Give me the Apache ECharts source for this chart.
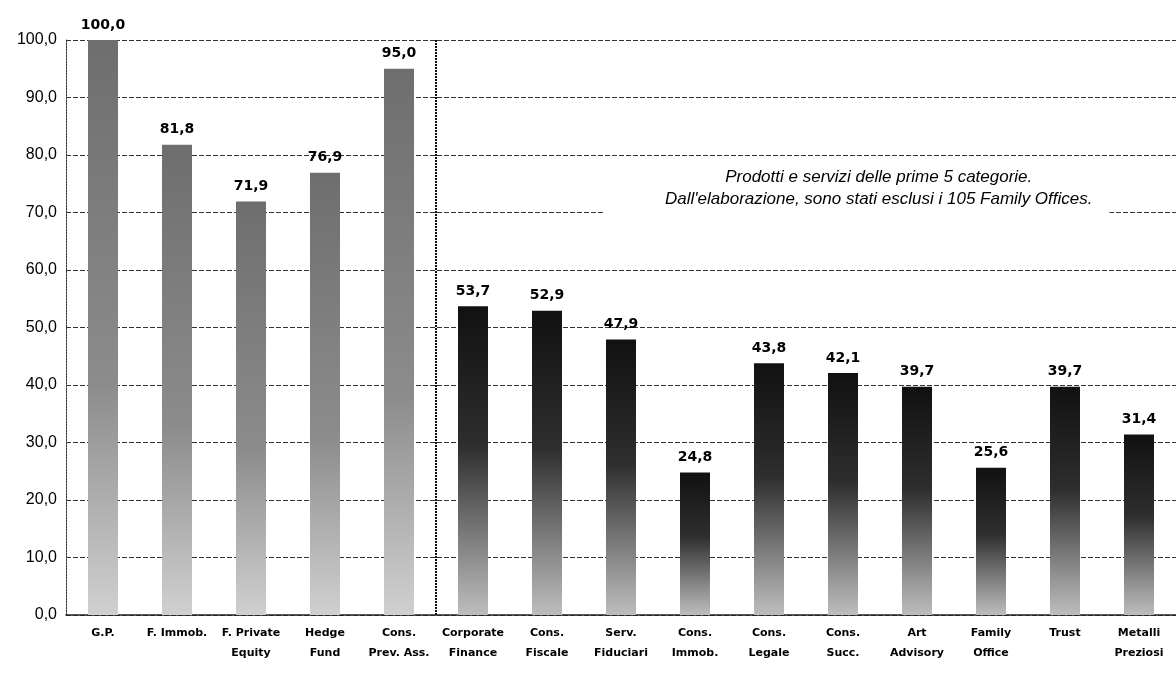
<!DOCTYPE html>
<html>
<head>
<meta charset="utf-8">
<script src="https://cdn.jsdelivr.net/npm/echarts@6/dist/echarts.min.js"></script>
<style>
  html, body { margin: 0; padding: 0; background: #fff; }
  #chart { width: 1176px; height: 678px; }
</style>
</head>
<body>
<div id="chart"></div>
<script>
// categorie (le prime 5 sono i prodotti, il resto i servizi)
const categories = [
  "G.P.", "F. Immob.", "F. Private\nEquity", "Hedge\nFund", "Cons.\nPrev. Ass.",
  "Corporate\nFinance", "Cons.\nFiscale", "Serv.\nFiduciari", "Cons.\nImmob.", "Cons.\nLegale",
  "Cons.\nSucc.", "Art\nAdvisory", "Family\nOffice", "Trust", "Metalli\nPreziosi"
];
const values = [100.0, 81.8, 71.9, 76.9, 95.0, 53.7, 52.9, 47.9, 24.8, 43.8, 42.1, 39.7, 25.6, 39.7, 31.4];
const yTicks = [0, 100, 10]; // min, max, interval
const splitAt = 5; // confine tra prodotti e servizi (in numero di categorie)
const noteLines = [
  "Prodotti e servizi delle prime 5 categorie.",
  "Dall'elaborazione, sono stati esclusi i 105 Family Offices."
];

const fmt = (v) => Number(v).toFixed(1).replace(".", ",");

const lightGrad = new echarts.graphic.LinearGradient(0, 0, 0, 1, [
  { offset: 0, color: "#6e6e6e" },
  { offset: 0.6, color: "#8c8c8c" },
  { offset: 1, color: "#d0d0d0" }
]);
const darkGrad = new echarts.graphic.LinearGradient(0, 0, 0, 1, [
  { offset: 0, color: "#111" },
  { offset: 0.45, color: "#2e2e2e" },
  { offset: 0.8, color: "#8a8a8a" },
  { offset: 1, color: "#bdbdbd" }
]);

const barData = values.map((v, i) => ({
  value: v,
  itemStyle: { color: i < 5 ? lightGrad : darkGrad }
}));

var chartDom = document.getElementById("chart");
var myChart = echarts.init(chartDom);
var option;

option = {
  animation: false,
  grid: { left: 66, right: 0, top: 40, bottom: 63 },
  xAxis: [
    {
      type: "category",
      data: categories,
      axisLine: { show: true, lineStyle: { color: "#222", width: 1.5 } },
      axisTick: { show: false },
      axisLabel: {
        interval: 0,
        margin: 8,
        fontFamily: "DejaVu Sans",
        fontWeight: "bold",
        fontSize: 11,
        lineHeight: 20,
        color: "#000"
      },
      splitLine: { show: false }
    },
    {
      // asse nascosto per posizionare il separatore
      type: "value",
      min: 0,
      max: categories.length,
      show: false
    }
  ],
  yAxis: {
    type: "value",
    min: yTicks[0],
    max: yTicks[1],
    interval: yTicks[2],
    axisLine: { show: true, lineStyle: { color: "#333", type: [2, 1] } },
    axisTick: { show: false },
    axisLabel: {
      formatter: fmt,
      margin: 9,
      fontFamily: "Liberation Sans, Arial",
      fontSize: 16,
      color: "#000"
    },
    splitLine: { lineStyle: { color: "#333", type: [5, 2], width: 1 } }
  },
  graphic: [
    {
      type: "text",
      left: 605,
      top: 160,
      z: 10,
      style: {
        text: noteLines.join("\n"),
        textAlign: "center",
        font: "italic 17px 'Liberation Sans', Arial",
        fill: "#000",
        lineHeight: 22,
        backgroundColor: "#fff",
        padding: [6, 17, 6, 60]
      }
    }
  ],
  series: [
    {
      type: "bar",
      data: barData,
      barWidth: 30,
      label: {
        show: true,
        position: "top",
        distance: 8,
        formatter: (p) => fmt(p.value),
        fontFamily: "DejaVu Sans",
        fontWeight: "bold",
        fontSize: 14,
        color: "#000"
      }
    },
    {
      type: "line",
      xAxisIndex: 1,
      data: [],
      markLine: {
        silent: true,
        symbol: "none",
        label: { show: false },
        lineStyle: { color: "#111", width: 2, type: [2, 1] },
        data: [{ xAxis: splitAt }]
      }
    }
  ]
};

option && myChart.setOption(option);
</script>
</body>
</html>
